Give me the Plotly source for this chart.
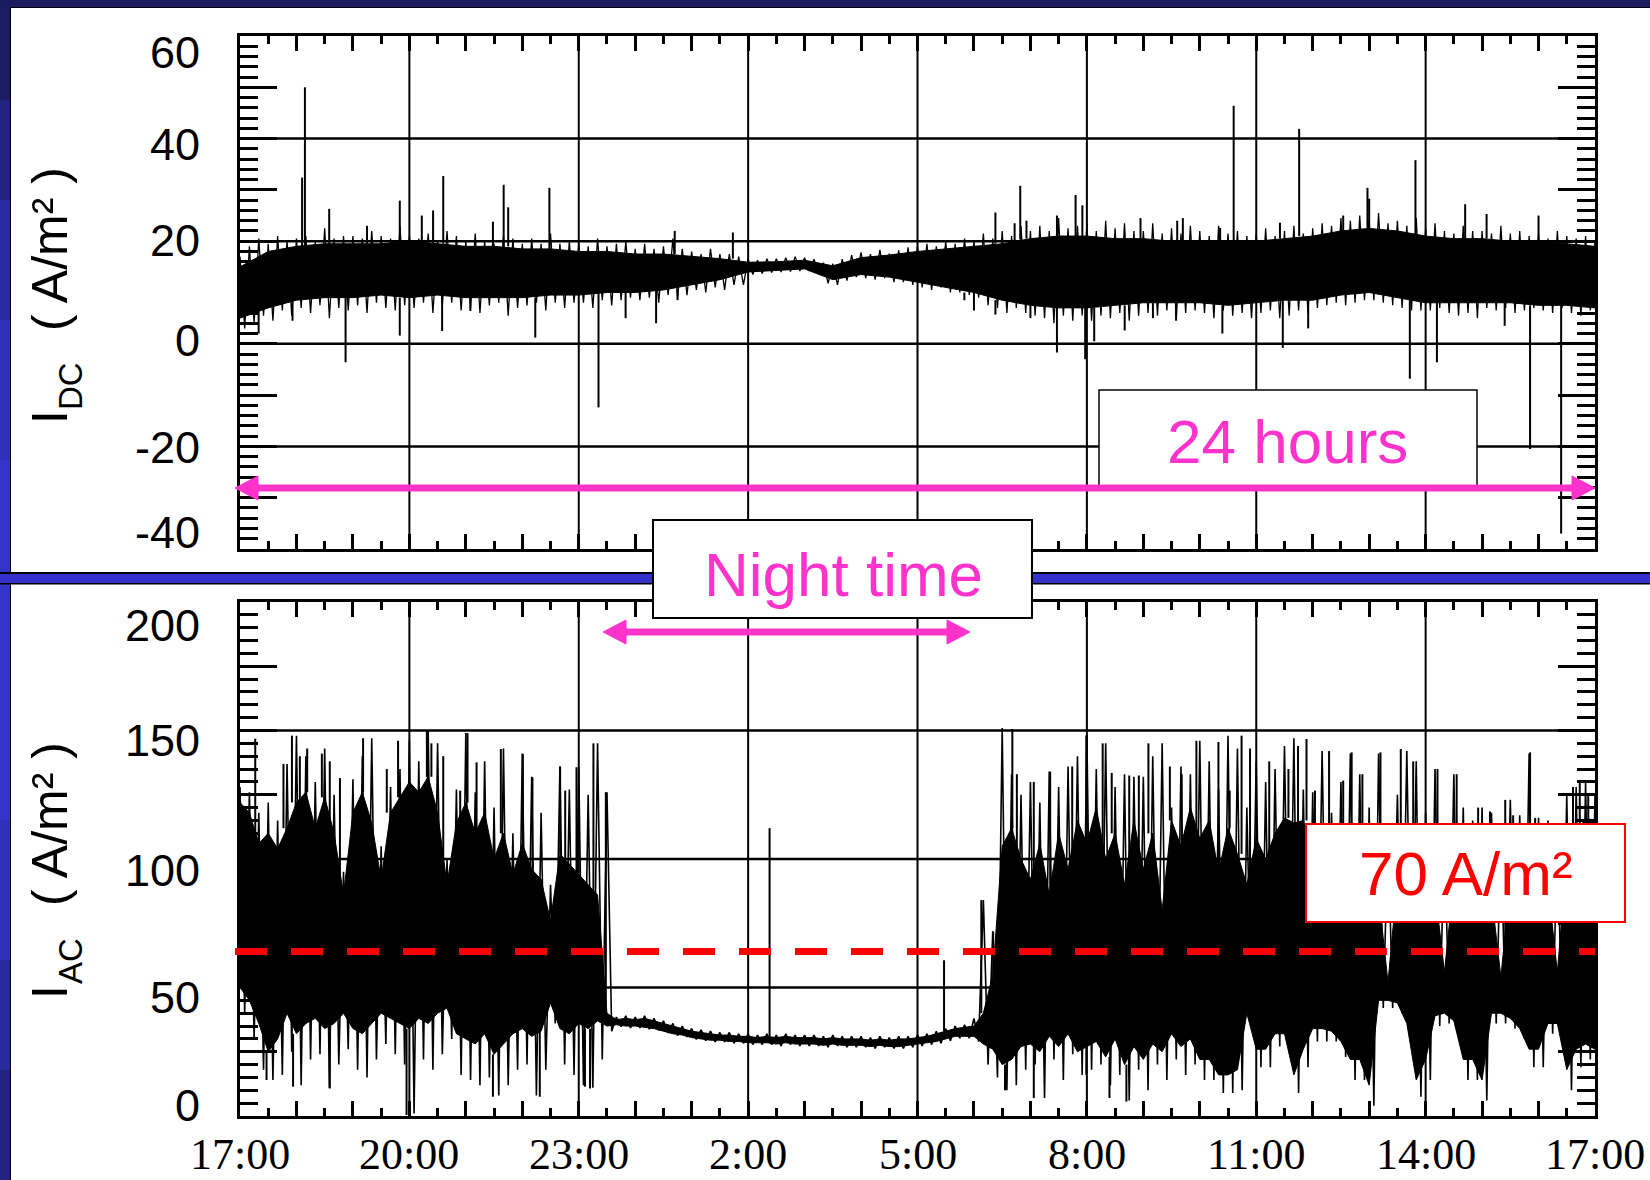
import plotly.graph_objects as go

# ---------------------------------------------------------------------------
# DATA.  Time axis: hours after 17:00.
# CORE = solid part of the noise band; NEEDLE_TOP / NEEDLE_BOT = tips of the
# hair-like excursions (tops at the 10-min marks, bottoms 5 min later);
# *_UP_* / *_DN_* = isolated tall spikes (time, tip value).
# ---------------------------------------------------------------------------
HOURS = [i / 6 for i in range(145)]              # 10-minute sampling
TROUGH_HOURS = [i / 6 + 1 / 12 for i in range(145)]
DC_CORE_HOURS = [k / 2 for k in range(49)]       # 30-minute sampling

DC_CORE_HI = [15, 18, 19, 19.5, 19.5, 19.5, 20, 19.5, 19, 19, 18.5, 18.5, 18, 18, 17.5, 17.5,
              17, 16.6, 15.9, 16, 16.3, 15.2, 16.8, 17.3, 18, 18.5, 19, 19.5, 20.5, 21,
              21, 20.5, 20.5, 20, 20, 20, 20, 20.5, 21, 22, 22.5, 22, 21, 20.5,
              20.5, 20, 20, 19.5, 19]
DC_CORE_LO = [5, 7, 8.5, 9, 9, 9.5, 9, 9.5, 9, 9, 9, 9.5, 9.5, 10, 10, 10.5,
              11.5, 12.5, 14, 14.3, 14.6, 12.5, 13.5, 13, 12, 11, 10, 8.5, 7.5, 7,
              7, 7.5, 8, 8, 8, 7.5, 8, 8.5, 8.5, 9.5, 10, 9, 8, 8,
              8, 8, 7.5, 7.5, 7]
DC_NEEDLE_TOP = [
    17, 19, 20.5, 19.5, 21, 20,
    20.5, 21, 20, 22.5, 20.5, 21,
    21, 20.5, 22, 21, 20.5, 23,
    21, 20.5, 21.5, 20, 22, 21,
    20, 21.5, 20, 19.5, 21, 20.5,
    19.5, 20.5, 19.5, 21.5, 19.5, 20,
    19.5, 19, 20.5, 19, 19.5, 20,
    18.5, 19.5, 18.5, 19, 20.5, 18.5,
    18, 17.5, 18.5, 17.5, 17.5, 17,
    16.5, 16.3, 16.6, 16.6, 16.8, 17,
    16.8, 16.5, 15.8, 15.6, 16.5, 17.3,
    17.8, 17.5, 18.3, 17.6, 18.2, 18.8,
    19, 19.5, 19, 20, 19.5, 20.5,
    20, 21.5, 20.5, 22, 21, 23,
    22, 23, 22, 24.5, 22.5, 23,
    23.5, 22, 24, 22.5, 23.5, 22,
    22, 23.5, 21.5, 22.5, 21.5, 23,
    22, 21, 23, 21.5, 22, 21,
    21.5, 22.5, 21, 22, 23, 21.5,
    22.5, 23.5, 23, 24.5, 24, 25,
    24, 25.5, 23.5, 24, 23, 24.5,
    22.5, 23.5, 22, 21.5, 23, 22,
    22, 21.5, 23, 21.5, 22, 21,
    21.5, 20.5, 22, 21, 20.5, 21,
    20,
]
DC_NEEDLE_BOT = [
    3, 4, 5.5, 4.5, 6.5, 5.5,
    7, 6, 7.5, 5, 7, 6.5,
    7.5, 6, 8, 7, 6.5, 7.5,
    7, 8, 6, 7.5, 8, 6.5,
    7, 6, 7.5, 8, 5.5, 7,
    7.5, 8, 6.5, 8, 7, 8,
    8, 7, 8.5, 7.5, 8.5, 9,
    8.5, 9, 8, 9.5, 9, 9.5,
    10.5, 10, 11, 10.5, 11.5, 11.5,
    13.5, 13.7, 13.9, 14, 14.1, 14.2,
    14.2, 13.6, 11.8, 11.5, 12.3, 13,
    12.8, 12.5, 12.8, 12, 12, 11.5,
    11, 10.5, 11, 10, 10, 9.5,
    9, 7.5, 7, 6, 7, 6,
    5.5, 5, 4, 5.5, 4.5, 5.5,
    4.5, 5.5, 5, 6, 4.5, 5.5,
    6, 5.5, 6.5, 5, 6, 6.5,
    6, 5, 6.5, 5.5, 6, 5,
    6, 6.5, 5, 5.5, 6.5, 6,
    7, 7.5, 8, 7.5, 8, 8.5,
    8.5, 8, 7.5, 7, 6.5, 6.5,
    6.5, 7, 6, 5.5, 6, 5,
    7, 6.5, 7, 6, 6.5, 7,
    6.5, 6, 7, 6, 5.5, 6.5,
    5.5,
]
DC_UP_T = [1.10, 1.15, 1.58, 2.25, 2.83, 3.22, 3.42, 3.60, 4.48, 4.67, 4.75, 5.48,
           7.70, 8.73, 13.38, 13.72, 13.82, 13.93, 14.47, 14.80, 14.92, 15.95, 16.60,
           16.70, 17.36, 17.60, 18.42, 18.76, 19.54, 19.97, 20.00, 20.82, 21.70,
           22.08, 23.00]
DC_UP_V = [32.4, 50, 26.3, 23, 27.9, 25, 26, 32.7, 23.8, 31, 26.6, 30.4,
           22, 21.7, 25.6, 23.5, 30.8, 24, 25, 29, 27, 24.5, 24,
           24.5, 22.6, 46.4, 23.6, 41.9, 25, 30.4, 28.3, 35.8, 27.2,
           25.3, 25]
DC_DN_T = [0.33, 0.93, 1.87, 2.83, 3.58, 4.08, 5.23, 6.35, 6.83, 7.37, 7.75, 12.83,
           13.00, 13.38, 14.00, 14.47, 14.97, 15.13, 15.67, 16.17, 16.58, 17.40,
           18.47, 18.92, 20.72, 21.20, 22.40, 22.85, 23.40]
DC_DN_V = [2, 4.5, -3.6, 1.6, 2.5, 6.4, 1.2, -12.4, 5, 4, 8.5, 8.5,
           6.5, 5.7, 5, -1.7, -3, 0.5, 2.6, 5, 4.5, 2,
           -0.8, 3, -6.8, -3.6, 3.5, -20.5, -37]

AC_CORE_HI = [
    122, 118, 106, 110, 104, 112,
    122, 126, 112, 124, 110, 86,
    118, 126, 114, 92, 118, 124,
    130, 126, 132, 118, 90, 114,
    122, 110, 118, 100, 110, 94,
    106, 96, 92, 76, 102, 98,
    94, 90, 86, 40, 37.5, 38,
    37.5, 38, 37, 36, 35, 34,
    33, 32.5, 32, 31.5, 31.5, 31,
    31, 30.5, 31, 30.5, 31, 30.5,
    30.5, 30.5, 30, 30.5, 30, 30,
    30, 29.5, 30, 29.5, 30, 30,
    30.5, 31, 32, 33, 34, 34.5,
    35, 40, 55, 105, 112, 100,
    92, 106, 86, 110, 96, 115,
    106, 120, 100, 110, 90, 115,
    96, 110, 80, 115, 105, 120,
    108, 115, 95, 112, 102, 90,
    108, 100, 110, 116, 114, 115,
    98, 95, 100, 92, 96, 88,
    94, 86, 52, 92, 96, 100,
    94, 88, 56, 92, 98, 90,
    94, 86, 54, 92, 94, 88,
    92, 90, 56, 100, 110, 116,
    115,
]
AC_CORE_LO = [
    50, 45, 36, 25, 30, 40,
    32, 36, 38, 34, 36, 40,
    34, 32, 36, 40, 38, 36,
    34, 38, 36, 40, 42, 32,
    30, 28, 32, 24, 28, 32,
    34, 31, 33, 44, 34, 32,
    36, 34, 37, 35, 35.5, 35,
    35, 34.5, 34, 33, 32, 31.5,
    30.5, 30, 29.5, 29.5, 29, 29,
    28.5, 28.5, 28.5, 28, 28.5, 28,
    28, 28, 27.5, 28, 27.5, 27.5,
    27.5, 27, 27.5, 27, 27, 27.5,
    28, 28.5, 29, 30, 31, 31,
    31, 28, 26, 20, 22, 27,
    28, 25, 31, 27, 32, 25,
    27, 29, 23, 30, 20, 27,
    22, 28, 25, 32, 27, 30,
    22, 22, 16, 16, 18, 40,
    26, 26, 32, 32, 16, 26,
    34, 34, 33, 29, 22, 22,
    12, 45, 45, 44, 36, 14,
    22, 39, 40, 37, 22, 22,
    14, 40, 40, 38, 34, 26,
    26, 36, 36, 18, 26, 28,
    26,
]
AC_NEEDLE_TOP = [
    128, 126, 118, 122, 115, 137,
    148, 140, 130, 143, 125, 95,
    131, 140, 147, 105, 128, 135,
    146, 138, 150, 145, 100, 127,
    149, 126, 138, 120, 143, 110,
    141, 132, 118, 90, 136, 127,
    136, 125, 145, 126, 38.5, 39,
    38.5, 39, 38, 37, 36, 35,
    34, 33.5, 33, 32.5, 32.5, 32,
    32, 31.5, 32, 31.5, 32, 31.5,
    31.5, 31.5, 31, 31.5, 31, 31,
    31, 30.5, 31, 30.5, 31, 31,
    31.5, 32, 33, 34, 35, 35.5,
    38, 84, 72, 151, 133, 125,
    130, 122, 134, 128, 136, 140,
    148, 135, 145, 128, 133, 132,
    132, 140, 145, 120, 136, 133,
    146, 138, 127, 148, 143, 120,
    138, 130, 135, 144, 147, 127,
    126, 142, 118, 130, 141, 133,
    120, 141, 110, 125, 142, 138,
    118, 135, 112, 133, 120, 115,
    120, 118, 110, 123, 117, 141,
    116, 115, 112, 125, 128, 130,
    125,
]
AC_NEEDLE_BOT = [
    40, 30, 18, 14, 16, 25,
    12, 22, 24, 11, 20, 26,
    18, 15, 22, 28, 24, 20,
    1, 22, 18, 24, 30, 16,
    14, 12, 15, 8, 12, 18,
    20, 8, 18, 36, 20, 16,
    12, 11, 22, 33, 34.8, 34.3,
    34.3, 33.8, 33.3, 32.3, 31.3, 30.8,
    29.8, 29.3, 28.8, 28.8, 28.3, 28.3,
    27.8, 27.8, 27.8, 27.3, 27.8, 27.3,
    27.3, 27.3, 26.8, 27.3, 26.8, 26.8,
    26.8, 26.3, 26.8, 26.3, 26.3, 26.8,
    27.3, 27.8, 28.3, 29.3, 30.3, 30.3,
    29, 20, 15, 10, 12, 18,
    20, 7, 22, 14, 24, 16,
    18, 20, 12, 16, 6, 18,
    10, 20, 14, 22, 16, 20,
    14, 14, 9, 9, 10, 37,
    19, 19, 27, 27, 9, 19,
    29, 29, 29, 23, 14, 14,
    4, 42, 42, 40, 31, 7.5,
    14, 35, 36, 33, 14, 14,
    6, 36, 36, 34, 30, 19,
    19, 32, 32, 10, 19, 22,
    20,
]
AC_UP_T = [0.27, 0.77, 0.92, 1.06, 1.19, 1.45, 1.59, 1.77, 2.18, 2.60,
           2.80, 3.31, 3.39, 3.60, 3.90, 4.03, 4.19, 4.62, 5.01, 5.18,
           5.67, 5.76, 5.96, 6.26, 6.48, 9.38, 12.47, 13.13, 13.34, 13.68,
           13.76, 14.06, 14.35, 14.74, 14.99, 15.28, 15.44, 15.75, 15.92, 16.09,
           16.47, 16.68, 16.94, 17.33, 17.53, 17.74, 17.89, 18.23, 18.57, 18.74,
           18.89, 19.04, 19.29, 19.54, 19.69, 19.88, 20.20, 20.56, 20.78, 21.21,
           21.55, 21.93, 22.14, 22.41, 22.55, 22.85, 22.94, 23.61, 23.73, 23.88]
AC_UP_V = [146.8, 137, 148, 140, 143, 141, 138, 131.5, 147, 135,
           146, 150, 145, 140, 126.6, 149, 137.6, 142.8, 140.8, 131.8,
           136, 126.6, 135.7, 145, 126, 112, 60.6, 84, 71.6, 150.6,
           133, 130, 134, 136, 148, 145, 133.5, 132.5, 132.5, 145,
           136, 133, 146, 145.5, 126.6, 148, 143, 138, 135, 144,
           146.7, 126.6, 142, 130.5, 141.5, 133, 141.5, 142.8, 138, 135,
           133, 120, 118.5, 123, 117, 141.5, 116, 128, 130, 125]
AC_DN_T = [0.47, 0.94, 1.59, 2.95, 4.48, 5.31, 6.11, 6.20, 13.55, 14.06, 14.99, 15.40, 15.70]
AC_DN_V = [14, 11.4, 10.7, 0.4, 7.5, 7.5, 11.4, 10.7, 10, 7, 16, 7, 5.6]

AC_LIMIT_DRAWN = 64          # where the red "70 A/m2" dashed line sits on the axis
X_TICK_LABELS = ["17:00", "20:00", "23:00", "2:00", "5:00", "8:00", "11:00", "14:00", "17:00"]
DC_TICK_LABELS = [60, 40, 20, 0, -20, -40]
AC_TICK_LABELS = [200, 150, 100, 50, 0]

for arr in (DC_NEEDLE_TOP, DC_NEEDLE_BOT, AC_CORE_HI, AC_CORE_LO, AC_NEEDLE_TOP, AC_NEEDLE_BOT):
    assert len(arr) == len(HOURS), len(arr)
assert len(DC_CORE_HI) == len(DC_CORE_LO) == len(DC_CORE_HOURS)
assert len(DC_UP_T) == len(DC_UP_V) and len(DC_DN_T) == len(DC_DN_V)
assert len(AC_UP_T) == len(AC_UP_V) and len(AC_DN_T) == len(AC_DN_V)

# ---------------------------------------------------------------------------
# LAYOUT GEOMETRY (pixels of the 1650 x 1180 page)
# ---------------------------------------------------------------------------
W, H = 1650, 1180
ML, MR, MT, MB = 240, 55, 36, 64
PW, PH = W - ML - MR, H - MT - MB


def px_x(x):
    return (x - ML) / PW


def px_y(y):
    return (H - MB - y) / PH


TOP_DOMAIN = [px_y(549), px_y(36)]
BOT_DOMAIN = [px_y(1116), px_y(602)]
PINK = "#ff33cc"
RED = "#ff0000"
SANS = "Liberation Sans, Arial, sans-serif"
SERIF = "Liberation Serif, Times New Roman, serif"


def nearest(hours, t):
    return min(range(len(hours)), key=lambda k: abs(hours[k] - t))


def spikes(ts, vs, hours, edge):
    xs, ys = [], []
    for t, v in zip(ts, vs):
        xs += [t, t, None]
        ys += [edge[nearest(hours, t)], v, None]
    return xs, ys


def needle_line(tops, bots):
    xs, ys = [], []
    for t, tb, a, b in zip(HOURS, TROUGH_HOURS, tops, bots):
        xs += [t, tb]
        ys += [a, b]
    return xs, ys


fig = go.Figure()
panels = [
    ("x", "y", DC_CORE_HOURS, DC_CORE_HI, DC_CORE_LO, DC_NEEDLE_TOP, DC_NEEDLE_BOT,
     DC_UP_T, DC_UP_V, DC_DN_T, DC_DN_V, 1.3),
    ("x2", "y2", HOURS, AC_CORE_HI, AC_CORE_LO, AC_NEEDLE_TOP, AC_NEEDLE_BOT,
     AC_UP_T, AC_UP_V, AC_DN_T, AC_DN_V, 1.6),
]
for xa, ya, ch, hi, lo, ntop, nbot, ut, uv, dt, dv, nw in panels:
    common = dict(xaxis=xa, yaxis=ya, hoverinfo="skip", showlegend=False)
    fig.add_trace(go.Scatter(x=ch, y=lo, mode="lines", line=dict(color="black", width=1), **common))
    fig.add_trace(go.Scatter(x=ch, y=hi, mode="lines", fill="tonexty", fillcolor="black",
                             line=dict(color="black", width=1), **common))
    nx, ny = needle_line(ntop, nbot)
    fig.add_trace(go.Scatter(x=nx, y=ny, mode="lines", line=dict(color="black", width=nw), **common))
    sx, sy = spikes(ut, uv, ch, hi)
    fig.add_trace(go.Scatter(x=sx, y=sy, mode="lines", line=dict(color="black", width=2), **common))
    sx, sy = spikes(dt, dv, ch, lo)
    fig.add_trace(go.Scatter(x=sx, y=sy, mode="lines", line=dict(color="black", width=2), **common))

# ---------------------------------------------------------------------------
# AXES
# ---------------------------------------------------------------------------
label_hours = [3 * k for k in range(len(X_TICK_LABELS))]
x_grid_hours = label_hours[1:-1]

xcommon = dict(
    range=[0, 24], showline=True, linecolor="black", linewidth=3, mirror="ticks",
    ticks="inside", tickmode="array", tickvals=list(range(25)),
    ticklen=15, tickwidth=3, tickcolor="black",
    minor=dict(ticks="inside", tickmode="array", tickvals=[h + 0.5 for h in range(24)],
               ticklen=8, tickwidth=3, tickcolor="black"),
    showgrid=False, zeroline=False, fixedrange=True, showticklabels=False, automargin=False,
)
ycommon = dict(showline=True, linecolor="black", linewidth=3, mirror="ticks", ticks="inside",
               tickmode="array", ticklen=37, tickwidth=3, tickcolor="black",
               showticklabels=False, showgrid=False, zeroline=False, fixedrange=True,
               automargin=False)
fig.update_layout(
    xaxis=dict(xcommon, domain=[0, 1], anchor="y"),
    xaxis2=dict(xcommon, domain=[0, 1], anchor="y2"),
    yaxis=dict(ycommon, domain=TOP_DOMAIN, anchor="x", range=[-40, 60],
               tickvals=list(range(-40, 61, 10)),
               minor=dict(ticks="inside", tickmode="array", tickvals=list(range(-40, 61, 2)),
                          ticklen=18, tickwidth=3, tickcolor="black")),
    yaxis2=dict(ycommon, domain=BOT_DOMAIN, anchor="x2", range=[0, 200],
                tickvals=list(range(0, 201, 25)),
                minor=dict(ticks="inside", tickmode="array", tickvals=list(range(0, 201, 5)),
                           ticklen=18, tickwidth=3, tickcolor="black")),
)

shapes = []
# page decoration: blue frame
left_band = [(0, 100, "#1c1c62"), (100, 200, "#222280"), (200, 320, "#2a2aa2"),
             (320, 460, "#3030bb"), (460, 820, "#3434c8"), (820, 960, "#3030bb"),
             (960, 1070, "#2a2aa0"), (1070, 1180, "#222280")]
for y0, y1, col in left_band:
    shapes.append(dict(type="rect", xref="paper", yref="paper", x0=px_x(0), x1=px_x(10),
                       y0=px_y(y1), y1=px_y(y0), fillcolor=col, line_width=0, layer="below"))
shapes.append(dict(type="rect", xref="paper", yref="paper", x0=px_x(0), x1=px_x(W),
                   y0=px_y(7), y1=px_y(0), fillcolor="#1b1b5f", line_width=0, layer="below"))
shapes.append(dict(type="line", xref="paper", yref="paper", x0=px_x(10), x1=px_x(W),
                   y0=px_y(7.5), y1=px_y(7.5), line=dict(color="black", width=1), layer="below"))
shapes.append(dict(type="line", xref="paper", yref="paper", x0=px_x(10.5), x1=px_x(10.5),
                   y0=px_y(H), y1=px_y(7), line=dict(color="black", width=1), layer="below"))
shapes.append(dict(type="rect", xref="paper", yref="paper", x0=px_x(0), x1=px_x(W),
                   y0=px_y(584.5), y1=px_y(572), fillcolor="black", line_width=0, layer="below"))
shapes.append(dict(type="rect", xref="paper", yref="paper", x0=px_x(0), x1=px_x(W),
                   y0=px_y(583), y1=px_y(574), fillcolor="#3333cc", line_width=0, layer="below"))

# grid lines
for xa, ya in [("x", "y"), ("x2", "y2")]:
    for h in x_grid_hours:
        shapes.append(dict(type="line", xref=xa, yref=ya + " domain", x0=h, x1=h, y0=0, y1=1,
                           line=dict(color="black", width=2), layer="below"))
for v in DC_TICK_LABELS[1:-1]:
    shapes.append(dict(type="line", xref="x domain", yref="y", x0=0, x1=1, y0=v, y1=v,
                       line=dict(color="black", width=2.5), layer="below"))
for v in AC_TICK_LABELS[1:-1]:
    shapes.append(dict(type="line", xref="x2 domain", yref="y2", x0=0, x1=1, y0=v, y1=v,
                       line=dict(color="black", width=2.5), layer="below"))

# red dashed threshold line
shapes.append(dict(type="line", xref="paper", yref="y2", x0=px_x(235), x1=px_x(1595),
                   y0=AC_LIMIT_DRAWN, y1=AC_LIMIT_DRAWN,
                   line=dict(color=RED, width=7, dash="32px,24px")))

# boxes
shapes.append(dict(type="rect", xref="paper", yref="paper", x0=px_x(1099), x1=px_x(1477),
                   y0=px_y(488), y1=px_y(390), fillcolor="white",
                   line=dict(color="black", width=1.5)))
shapes.append(dict(type="rect", xref="paper", yref="paper", x0=px_x(653), x1=px_x(1032),
                   y0=px_y(618), y1=px_y(520), fillcolor="white",
                   line=dict(color="black", width=2)))
shapes.append(dict(type="rect", xref="paper", yref="paper", x0=px_x(1306), x1=px_x(1625),
                   y0=px_y(922), y1=px_y(824), fillcolor="white",
                   line=dict(color=RED, width=2)))


def double_arrow(x_left, x_right, y, thick, head_len, head_half):
    out = [dict(type="line", xref="paper", yref="paper",
                x0=px_x(x_left + head_len - 2), x1=px_x(x_right - head_len + 2),
                y0=px_y(y), y1=px_y(y), line=dict(color=PINK, width=thick))]
    for tip, sgn in [(x_left, 1), (x_right, -1)]:
        base = tip + sgn * head_len
        path = "M {},{} L {},{} L {},{} Z".format(
            px_x(tip), px_y(y), px_x(base), px_y(y - head_half), px_x(base), px_y(y + head_half))
        out.append(dict(type="path", xref="paper", yref="paper", path=path,
                        fillcolor=PINK, line=dict(color=PINK, width=1)))
    return out


shapes += double_arrow(235, 1595, 488, 7, 23, 12)
shapes += double_arrow(603, 970, 632, 7, 23, 12)

fig.update_layout(shapes=shapes)

# ---------------------------------------------------------------------------
# TEXT
# ---------------------------------------------------------------------------
ann = []


def text_at(text, x, y, size, color="black", family=SANS, angle=0, xanchor="center", **kw):
    ann.append(dict(text=text, xref="paper", yref="paper", x=px_x(x), y=px_y(y),
                    xanchor=xanchor, yanchor="middle", textangle=angle, showarrow=False,
                    font=dict(family=family, size=size, color=color), **kw))


dc_label_shift = {60: -16, 40: -6, 20: 1, 0: 3, -20: -1, -40: 17}
ac_label_shift = {200: -23, 150: -10, 100: -11, 50: -10, 0: 11}
for v in DC_TICK_LABELS:
    ann.append(dict(text=str(v), xref="paper", yref="y", x=px_x(202), y=v, xanchor="right",
                    yanchor="middle", yshift=dc_label_shift[v], showarrow=False,
                    font=dict(family=SANS, size=45, color="black")))
for v in AC_TICK_LABELS:
    ann.append(dict(text=str(v), xref="paper", yref="y2", x=px_x(202), y=v, xanchor="right",
                    yanchor="middle", yshift=ac_label_shift[v], showarrow=False,
                    font=dict(family=SANS, size=45, color="black")))
for h, lab in zip(label_hours, X_TICK_LABELS):
    ann.append(dict(text=lab, xref="x2", yref="paper", x=h, y=px_y(1154), xanchor="center",
                    yanchor="middle", showarrow=False,
                    font=dict(family=SERIF, size=44, color="black")))

# rotated axis titles:  I  +  subscript  +  ( A/m² )
for sub, dy in [("DC", 0), ("AC", 575)]:
    text_at("I", 50, 417 + dy, 50, angle=-90)
    text_at(sub, 70, 386 + dy, 33, angle=-90)
    text_at("( A/m² )", 50, 249 + dy, 50, angle=-90)

text_at("24 hours", 1287, 442, 62, color=PINK)
text_at("Night time", 843, 574, 62, color=PINK)
text_at("70 A/m²", 1466, 873, 62, color=RED)

fig.update_layout(
    annotations=ann,
    width=W, height=H, autosize=False,
    margin=dict(l=ML, r=MR, t=MT, b=MB, pad=0, autoexpand=False),
    paper_bgcolor="white", plot_bgcolor="white",
    showlegend=False,
)

fig.write_html("out.html", include_plotlyjs=True, full_html=True,
               config={"displayModeBar": False, "staticPlot": True},
               post_script="document.body.style.margin='0';document.body.style.overflow='hidden';")
